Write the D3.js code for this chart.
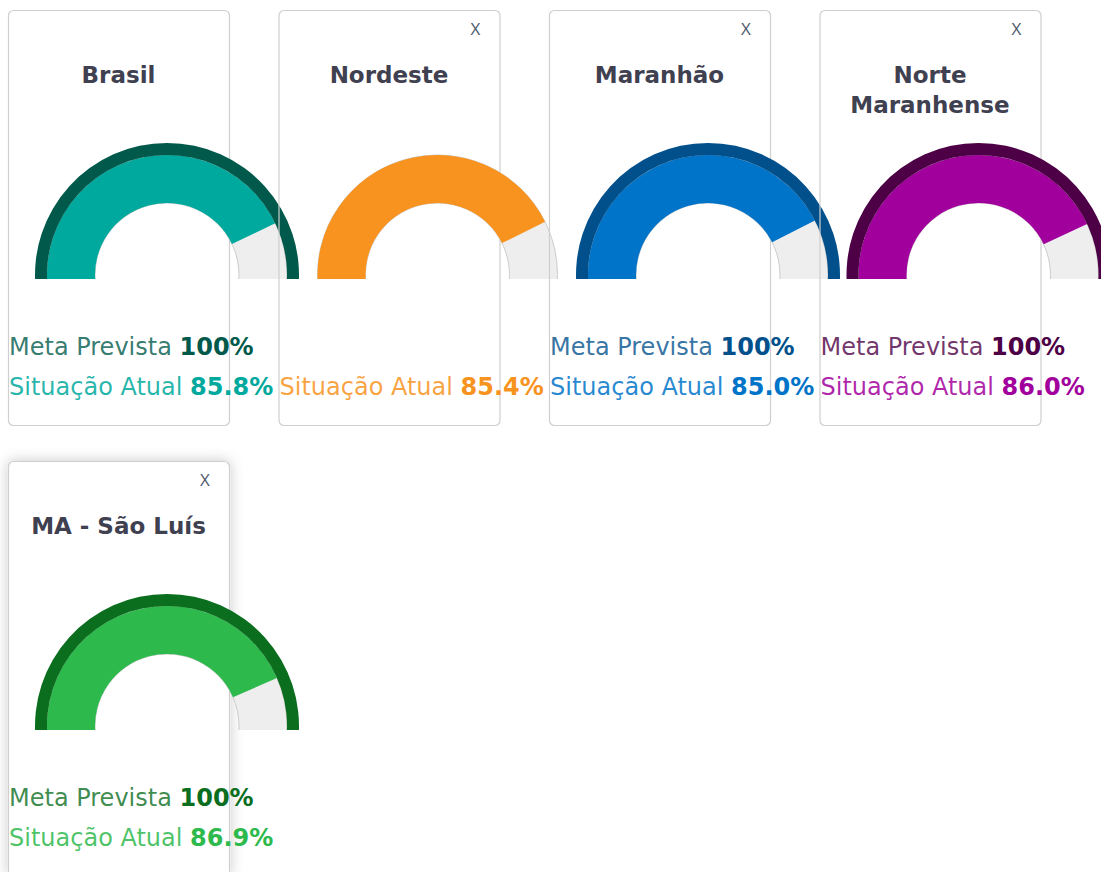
<!DOCTYPE html>
<html>
<head>
<meta charset="utf-8">
<script src="https://cdn.jsdelivr.net/npm/d3@7"></script>
<style>
  body { margin: 0; background: #fff; }
  svg { display: block; font-family: "DejaVu Sans", sans-serif; }
</style>
</head>
<body>
<div id="chart"></div>
<script>
// data
const regions = ["Brasil", "Nordeste", "Maranhão", "Norte Maranhense", "MA - São Luís"];
const titleLines = [["Brasil"], ["Nordeste"], ["Maranhão"], ["Norte", "Maranhense"], ["MA - São Luís"]];
const metaValues = [100, null, 100, 100, 100];
const currentValues = [85.8, 85.4, 85.0, 86.0, 86.9];
const closable = [false, true, true, true, true];

// colours per card
const fillColors = ["#00a99d", "#f7931e", "#0074c8", "#a2009c", "#2eb94c"];
const ringColors = ["#00594b", null, "#01508c", "#4d0045", "#0b6e1f"];

const width = 1101;
const height = 872;
const card = { w: 221, h: 415, left: 8, top: 10, stepX: 270.5, stepY: 451, perRow: 4 };
const gauge = { cx: 159, cy: 265, inner: 72, outer: 120, ring: 132, below: 4 };
const hoveredIndex = 4;

const angle = d3.scaleLinear().domain([0, 100]).range([-Math.PI / 2, Math.PI / 2]);
const drop = 0.1; // arcs run a little past horizontal, then get clipped flat

const svg = d3.select("#chart")
    .append("svg")
    .attr("width", width)
    .attr("height", height);

const defs = svg.append("defs");
const filter = defs.append("filter")
    .attr("id", "shadow")
    .attr("x", "-30%").attr("y", "-30%")
    .attr("width", "160%").attr("height", "160%");
filter.append("feDropShadow")
    .attr("dx", 0).attr("dy", 0)
    .attr("stdDeviation", 7)
    .attr("flood-color", "#000")
    .attr("flood-opacity", 0.22);

defs.append("clipPath")
    .attr("id", "gauge-clip")
    .append("rect")
    .attr("x", -gauge.ring - 2).attr("y", -gauge.ring - 2)
    .attr("width", 2 * gauge.ring + 4)
    .attr("height", gauge.ring + 2 + gauge.below);

const bgArc = d3.arc()
    .innerRadius(gauge.inner)
    .outerRadius(gauge.outer)
    .startAngle(angle(0) - drop)
    .endAngle(angle(100) + drop);

const valueArc = d3.arc()
    .innerRadius(gauge.inner)
    .outerRadius(gauge.outer)
    .startAngle(angle(0) - drop)
    .endAngle(d => angle(d));

const ringArc = d3.arc()
    .innerRadius(gauge.outer)
    .outerRadius(gauge.ring)
    .startAngle(angle(0) - drop)
    .endAngle(d => angle(d) + (d >= 100 ? drop : 0));

const cards = svg.selectAll("g.card")
    .data(regions)
    .enter()
    .append("g")
    .attr("class", "card")
    .attr("transform", (d, i) => {
      const col = i % card.perRow;
      const row = Math.floor(i / card.perRow);
      return `translate(${card.left + col * card.stepX}, ${card.top + row * card.stepY})`;
    });

// card frame
cards.append("rect")
    .attr("x", 0.5).attr("y", 0.5)
    .attr("width", card.w).attr("height", card.h)
    .attr("rx", 5)
    .attr("fill", (d, i) => i === hoveredIndex ? "#fff" : "none")
    .attr("stroke", "#cfcfcf")
    .attr("stroke-width", 1.2)
    .attr("filter", (d, i) => i === hoveredIndex ? "url(#shadow)" : null);

// close button
cards.filter((d, i) => closable[i])
    .append("text")
    .attr("x", 197).attr("y", 25)
    .attr("text-anchor", "middle")
    .attr("font-family", "'Open Sans', sans-serif")
    .attr("font-size", 17)
    .attr("fill", "#4e5a6c")
    .text("X");

// title
cards.append("text")
    .attr("text-anchor", "middle")
    .attr("font-size", 23)
    .attr("font-weight", 700)
    .attr("fill", "#3f4050")
    .selectAll("tspan")
    .data((d, i) => titleLines[i])
    .enter()
    .append("tspan")
    .attr("x", card.w / 2)
    .attr("y", (d, j) => 73 + j * 30)
    .text(d => d);

// gauge
const g = cards.append("g")
    .attr("transform", `translate(${gauge.cx}, ${gauge.cy})`)
    .append("g")
    .attr("clip-path", "url(#gauge-clip)");

g.append("path")
    .attr("d", bgArc())
    .attr("fill", "#eeeeee")
    .attr("stroke", "#cccccc")
    .attr("stroke-width", 1);

g.append("path")
    .attr("d", (d, i) => valueArc(currentValues[i]))
    .attr("fill", (d, i) => fillColors[i]);

g.filter((d, i) => metaValues[i] !== null)
    .append("path")
    .attr("d", d => ringArc(metaValues[regions.indexOf(d)]))
    .attr("fill", d => ringColors[regions.indexOf(d)]);

// labels
const meta = cards.filter((d, i) => metaValues[i] !== null)
    .append("text")
    .attr("x", 1).attr("y", 345)
    .attr("font-size", 24);
meta.append("tspan")
    .attr("fill", d => ringColors[regions.indexOf(d)])
    .attr("fill-opacity", 0.8)
    .text("Meta Prevista ");
meta.append("tspan")
    .attr("font-weight", 700)
    .attr("fill", d => ringColors[regions.indexOf(d)])
    .text(d => metaValues[regions.indexOf(d)] + "%");

const atual = cards.append("text")
    .attr("x", 1).attr("y", 385)
    .attr("font-size", 24);
atual.append("tspan")
    .attr("fill", (d, i) => fillColors[i])
    .attr("fill-opacity", 0.85)
    .text("Situação Atual ");
atual.append("tspan")
    .attr("font-weight", 700)
    .attr("fill", (d, i) => fillColors[i])
    .text((d, i) => currentValues[i].toFixed(1) + "%");
</script>
</body>
</html>
